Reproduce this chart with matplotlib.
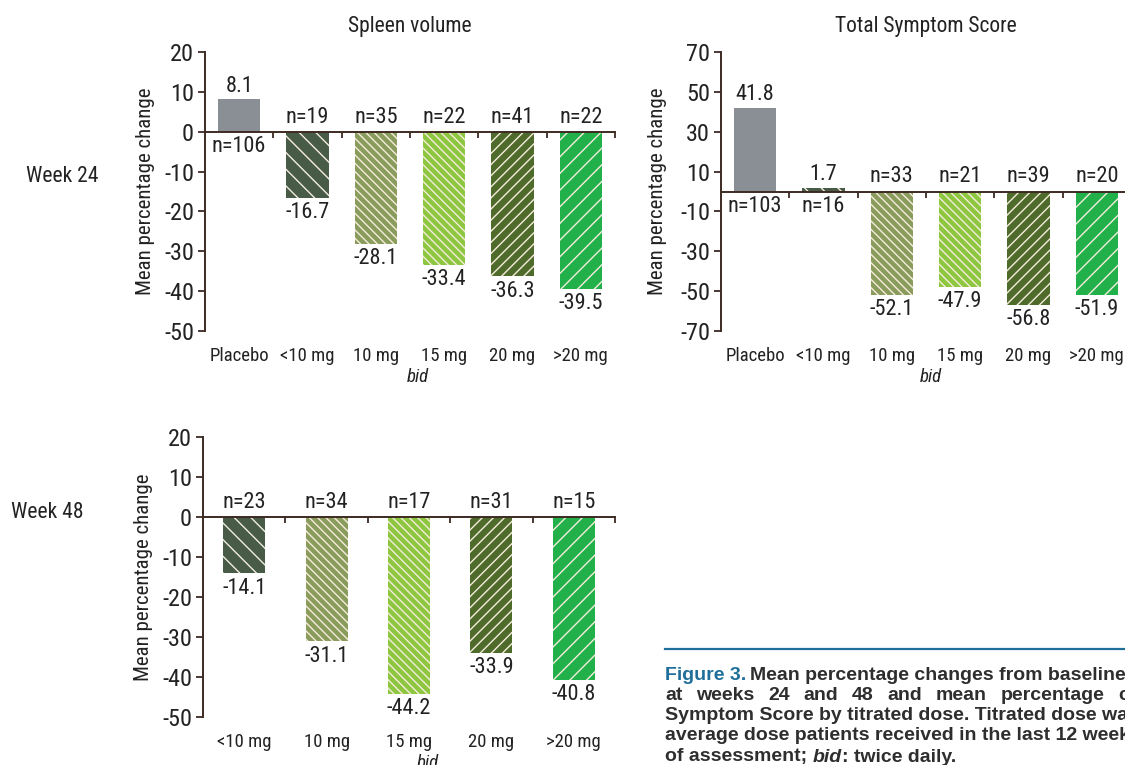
import numpy as np
import matplotlib.pyplot as plt

plt.rcParams['font.family'] = ['Roboto Condensed', 'DejaVu Sans']
plt.rcParams['axes.unicode_minus'] = False
plt.rcParams['hatch.linewidth'] = 1.0

# data
cats_24 = ['Placebo', '<10 mg', '10 mg', '15 mg', '20 mg', '>20 mg']
spleen_24 = [8.1, -16.7, -28.1, -33.4, -36.3, -39.5]
spleen_24_n = [106, 19, 35, 22, 41, 22]
tss_24 = [41.8, 1.7, -52.1, -47.9, -56.8, -51.9]
tss_24_n = [103, 16, 33, 21, 39, 20]
cats_48 = ['<10 mg', '10 mg', '15 mg', '20 mg', '>20 mg']
spleen_48 = [-14.1, -31.1, -44.2, -33.9, -40.8]
spleen_48_n = [23, 34, 17, 31, 15]

# fill colour, hatch
styles = {
    'Placebo': ('#8a8f95', ''),
    '<10 mg': ('#475b47', '\\\\'),
    '10 mg': ('#8a9c5c', '\\\\\\\\'),
    '15 mg': ('#8dc63f', '\\\\\\\\'),
    '20 mg': ('#4e6b2b', '///'),
    '>20 mg': ('#22b04b', '//'),
}
axis_col = '#3c2a22'
hatch_col = '#f6ecdc'
txt_col = '#222222'


def panel(ax, cats, vals, ns, ylim, yticks, width, bid_x, title=None):
    x = np.arange(len(cats))
    for i, (c, v, n) in enumerate(zip(cats, vals, ns)):
        fc, h = styles[c]
        ax.bar(i, v, width, color=fc, edgecolor=hatch_col if h else fc,
               hatch=h, lw=0, zorder=2)
        if v >= 0:
            ax.annotate(f'{v}', (i, v), xytext=(0, 2), textcoords='offset points',
                        ha='center', va='bottom', fontsize=16, color=txt_col)
            ax.annotate(f'n={n}', (i, 0), xytext=(0, -3), textcoords='offset points',
                        ha='center', va='top', fontsize=16, color=txt_col)
        else:
            ax.annotate(f'{v}', (i, v), xytext=(0, -3), textcoords='offset points',
                        ha='center', va='top', fontsize=16, color=txt_col)
            ax.annotate(f'n={n}', (i, 0), xytext=(0, 3), textcoords='offset points',
                        ha='center', va='bottom', fontsize=16, color=txt_col)
    ax.set_xlim(-0.5, len(cats) - 0.5)
    ax.set_ylim(*ylim)
    ax.set_yticks(yticks)
    ax.tick_params(axis='y', labelsize=17.5, length=5, width=1.3, color=axis_col,
                   pad=3, labelcolor=txt_col)
    for s in ['top', 'right']:
        ax.spines[s].set_visible(False)
    ax.spines['left'].set_color(axis_col)
    ax.spines['left'].set_linewidth(1.4)
    ax.spines['bottom'].set_position(('data', 0))
    ax.spines['bottom'].set_color(axis_col)
    ax.spines['bottom'].set_linewidth(1.4)
    ax.set_xticks(x + 0.5)
    ax.tick_params(axis='x', length=4, width=1.3, color=axis_col, labelbottom=False)
    tr = ax.get_xaxis_transform()
    for i, c in enumerate(cats):
        ax.text(i, -0.09, c, transform=tr, ha='center', va='center', fontsize=13.5,
                color=txt_col)
    ax.text(bid_x, -0.165, 'bid', transform=ax.transAxes, ha='center', va='center',
            fontsize=13.5, style='italic', color=txt_col)
    ax.set_ylabel('Mean percentage change', fontsize=15, color=txt_col)
    ax.yaxis.set_label_coords(-0.122, 0.5)
    if title:
        ax.text(0.5, 1.09, title, transform=ax.transAxes, ha='center', va='center',
                fontsize=15.5, color=txt_col)


fig = plt.figure(figsize=(11.25, 7.65), dpi=100)
W, H = 1125, 765

ax1 = fig.add_axes([205 / W, 1 - 331 / H, 410 / W, 279 / H])
panel(ax1, cats_24, spleen_24, spleen_24_n, (-50, 20), range(-50, 21, 10), 0.615,
      0.52, 'Spleen volume')

ax2 = fig.add_axes([721 / W, 1 - 331 / H, 410 / W, 279 / H])
panel(ax2, cats_24, tss_24, tss_24_n, (-70, 70), range(-70, 71, 20), 0.615,
      0.512, 'Total Symptom Score')
ax2.yaxis.set_label_coords(-0.132, 0.5)

ax3 = fig.add_axes([203 / W, 1 - 717 / H, 412 / W, 280 / H])
panel(ax3, cats_48, spleen_48, spleen_48_n, (-50, 20), range(-50, 21, 10), 0.51,
      0.546)
ax3.yaxis.set_label_coords(-0.121, 0.5)

fig.text(62 / W, 1 - 176 / H, 'Week 24', ha='center', va='center', fontsize=15.5,
         color=txt_col)
fig.text(47 / W, 1 - 513 / H, 'Week 48', ha='center', va='center', fontsize=15.5,
         color=txt_col)

# caption
cap_blue = '#1f6f9a'
cap_dark = '#2e2e2e'
fig.add_artist(plt.Line2D([665 / W, 1.0], [1 - 649 / H] * 2, color=cap_blue, lw=1.6))
cap_font = dict(family=['Liberation Sans', 'DejaVu Sans'], fontsize=14,
                weight='bold', va='center', ha='left')
rend = fig.canvas.get_renderer()


def put(xpx, ypx, s, **kw):
    t = fig.text(xpx / W, 1 - ypx / H, s, **{**cap_font, **kw})
    return t.get_window_extent(rend).x1


put(665, 675, 'Figure 3.', color=cap_blue)
put(750, 675, 'Mean percentage changes from baseline in spleen volume', color=cap_dark)

# justified second line: "change" starts near the right edge
words = ['at', 'weeks', '24', 'and', '48', 'and', 'mean', 'percentage', 'change', 'in']
widths = []
for w in words:
    t = fig.text(0, 0, w, **cap_font)
    widths.append(t.get_window_extent(rend).width)
    t.remove()
gap = (1118 - 665 - sum(widths[:8])) / 8
xp = 665
for w, wd in zip(words, widths):
    put(xp, 696, w, color=cap_dark)
    xp += wd + gap

put(665, 716, 'Symptom Score by titrated dose. Titrated dose was the', color=cap_dark)
put(665, 736, 'average dose patients received in the last 12 weeks', color=cap_dark)
x1 = put(665, 757, 'of assessment;', color=cap_dark)
x1 = put(x1 + 6, 757, 'bid', color=cap_dark, style='italic')
put(x1, 757, ': twice daily.', color=cap_dark)

fig.savefig('out.png', dpi=100)
